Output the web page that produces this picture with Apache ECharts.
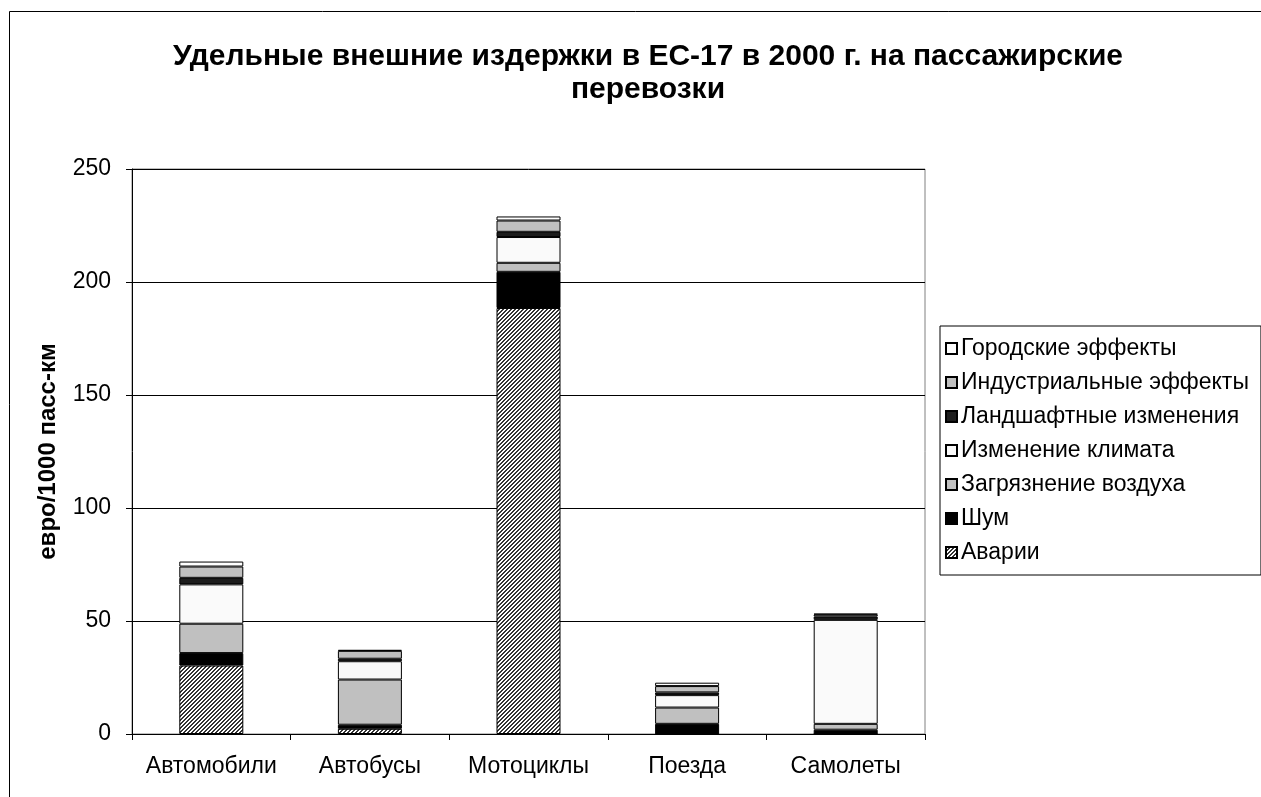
<!DOCTYPE html>
<html>
<head>
<meta charset="utf-8">
<script src="https://cdn.jsdelivr.net/npm/echarts@6/dist/echarts.min.js"></script>
<style>
  html, body { margin: 0; padding: 0; background: #fff; }
  #chart { width: 1261px; height: 797px; }
</style>
</head>
<body>
<div id="chart"></div>
<script>
// категории и значения (евро/1000 пасс-км)
var categories = ["Автомобили", "Автобусы", "Мотоциклы", "Поезда", "Самолеты"];
var seriesNames = ["Аварии", "Шум", "Загрязнение воздуха", "Изменение климата",
  "Ландшафтные изменения", "Индустриальные эффекты", "Городские эффекты"];
var accidents  = [30.3, 2.3, 188.5, 0, 0];
var noise      = [5.5, 1.8, 16.0, 4.5, 1.9];
var airPoll    = [13.0, 20.0, 4.0, 7.2, 2.6];
var climate    = [17.4, 8.1, 11.4, 5.5, 46.0];
var landscape  = [2.9, 1.1, 2.3, 1.2, 1.5];
var industrial = [5.0, 3.5, 5.0, 2.8, 0.9];
var urban      = [2.2, 0.4, 1.8, 1.5, 0.3];
var yTicks = [0, 50, 100, 150, 200, 250];

// штриховка для аварий
function hatch() {
  var c = document.createElement("canvas");
  c.width = 4; c.height = 4;
  var ctx = c.getContext("2d");
  ctx.fillStyle = "#fff";
  ctx.fillRect(0, 0, 4, 4);
  ctx.fillStyle = "#333";
  for (var i = 0; i < 4; i++) {
    ctx.fillRect(i, 3 - i, 1, 1);
    ctx.fillRect(i, (4 - i) % 4, 1, 1);
  }
  return c;
}

var fills = [
  { image: hatch(), repeat: "repeat" },
  "#000000",
  "#c0c0c0",
  "#fafafa",
  "#1c1c1c",
  "#c0c0c0",
  "#ffffff"
];
var values = [accidents, noise, airPoll, climate, landscape, industrial, urban];

var font = "Liberation Sans, Arial, sans-serif";
var chart = echarts.init(document.getElementById("chart"));

var option = {
  animation: false,
  backgroundColor: "#fff",
  textStyle: { fontFamily: font },
  title: {
    text: "Удельные внешние издержки в ЕС-17 в 2000 г. на пассажирские\nперевозки",
    left: 643,
    top: 35,
    textAlign: "center",
    textStyle: { fontFamily: font, fontSize: 30, fontWeight: "bold", color: "#000", lineHeight: 33 }
  },
  graphic: [{
    type: "rect",
    shape: { x: 9.5, y: 11.5, width: 1400, height: 900 },
    style: { fill: null, stroke: "#000", lineWidth: 1 },
    z: -1
  }],
  legend: {
    orient: "vertical",
    left: 940,
    top: 326,
    data: seriesNames.slice().reverse(),
    icon: "rect",
    itemWidth: 11,
    itemHeight: 11,
    itemGap: 11,
    padding: [11, 12, 11, 5],
    borderColor: "#000",
    borderWidth: 1,
    backgroundColor: "#fff",
    textStyle: { fontFamily: font, fontSize: 23, color: "#000", padding: [0, 0, 0, -1] }
  },
  grid: {
    left: 132, right: 336, top: 169, bottom: 63,
    show: true, borderColor: "#808080", borderWidth: 1
  },
  xAxis: {
    type: "category",
    data: categories,
    axisLine: { lineStyle: { color: "#000" } },
    axisTick: { show: true, length: 6, lineStyle: { color: "#000" } },
    axisLabel: { fontFamily: font, fontSize: 23, color: "#000", margin: 21, interval: 0 }
  },
  yAxis: {
    type: "value",
    min: yTicks[0],
    max: yTicks[yTicks.length - 1],
    interval: 50,
    name: "евро/1000 пасс-км",
    nameLocation: "middle",
    nameGap: 72,
    nameTextStyle: { fontFamily: font, fontSize: 24, fontWeight: "bold", color: "#000" },
    axisLine: { show: true, lineStyle: { color: "#000" } },
    axisTick: { show: true, length: 6, lineStyle: { color: "#000" } },
    axisLabel: { fontFamily: font, fontSize: 23, color: "#000", margin: 21 },
    splitLine: { lineStyle: { color: "#000", width: 1 } }
  },
  series: seriesNames.map(function (name, i) {
    return {
      name: name,
      type: "bar",
      stack: "total",
      barWidth: 64,
      data: values[i],
      itemStyle: { color: fills[i], borderColor: "#000", borderWidth: 1 }
    };
  })
};

chart.setOption(option);
</script>
</body>
</html>
